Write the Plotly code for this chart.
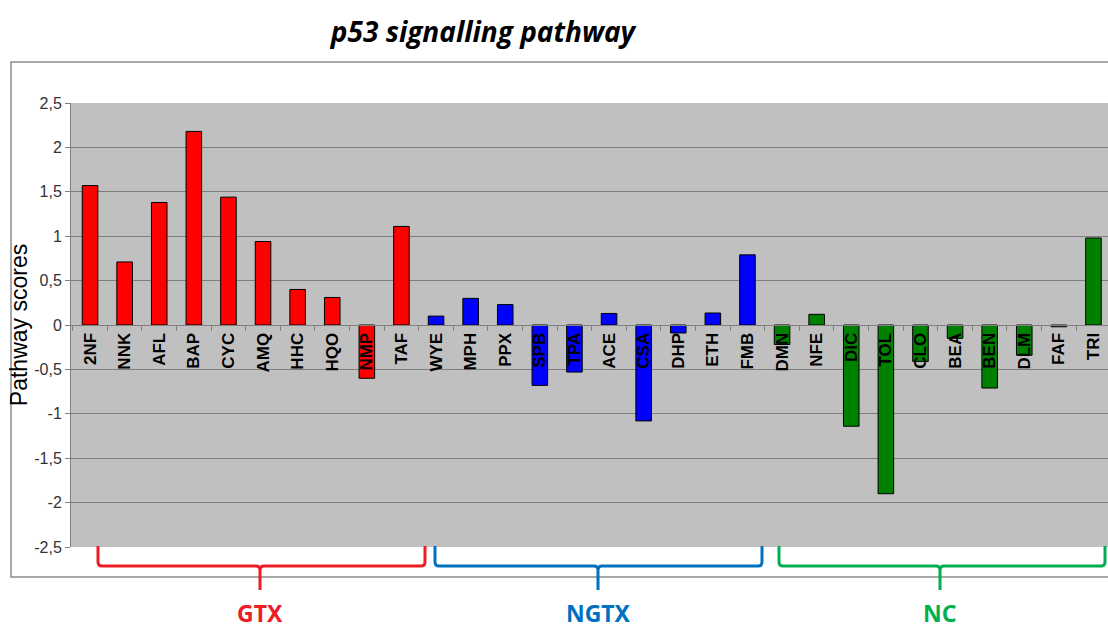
import plotly.graph_objects as go

# ---- data ----
gtx_labels = ["2NF", "NNK", "AFL", "BAP", "CYC", "AMQ", "HHC", "HQO", "NMP", "TAF"]
gtx_values = [1.57, 0.71, 1.38, 2.18, 1.44, 0.94, 0.40, 0.31, -0.60, 1.11]
ngtx_labels = ["WYE", "MPH", "PPX", "SPB", "TPA", "ACE", "CSA", "DHP", "ETH", "FMB"]
ngtx_values = [0.10, 0.30, 0.23, -0.68, -0.53, 0.13, -1.08, -0.09, 0.135, 0.79]
nc_labels = ["DMN", "NFE", "DIC", "TOL", "CLO", "BEA", "BEN", "DLM", "FAF", "TRI"]
nc_values = [-0.22, 0.12, -1.14, -1.90, -0.41, -0.15, -0.71, -0.34, -0.02, 0.98]
group_names = ["GTX", "NGTX", "NC"]
ytick_vals = [2.5, 2, 1.5, 1, 0.5, 0, -0.5, -1, -1.5, -2, -2.5]
ytick_text = ["2,5", "2", "1,5", "1", "0,5", "0", "-0,5", "-1", "-1,5", "-2", "-2,5"]

# ---- layout geometry (pixels); body margin removed by post_script ----
OFF = 0
W, H = 1108, 628
L, R, T, B = 71, 0, 103, 81
PW = W - L - R
PH = H - T - B


def px(x):
    return (x - OFF - L) / PW


def py(y):
    return (H - B - (y - OFF)) / PH


bar_colors = ["#FF0000", "#0000FF", "#008000"]
group_colors = ["#EE1C25", "#0070C0", "#00B050"]

fig = go.Figure()
for labels, values, col in zip([gtx_labels, ngtx_labels, nc_labels],
                               [gtx_values, ngtx_values, nc_values], bar_colors):
    fig.add_trace(go.Bar(x=labels, y=values, marker=dict(color=col, line=dict(color="#000000", width=1)),
                         width=0.45, showlegend=False))

all_labels = gtx_labels + ngtx_labels + nc_labels

shapes = []
# outer chart frame
shapes.append(dict(type="rect", xref="paper", yref="paper", x0=px(11), x1=px(1125), y0=py(577), y1=py(62),
                   line=dict(color="#8C8C8C", width=1.5), fillcolor="rgba(0,0,0,0)", layer="below"))

# brackets
brackets = [(98, 425, 260), (435, 762, 598), (779, 1105, 940)]
top, mid, stem = 546, 566, 590
r = 4
for (xl, xr, xc), col in zip(brackets, group_colors):
    pts = [
        f"M {px(xl)},{py(top)}",
        f"L {px(xl)},{py(mid - r)}",
        f"Q {px(xl)},{py(mid)} {px(xl + r)},{py(mid)}",
        f"L {px(xc - r)},{py(mid)}",
        f"Q {px(xc)},{py(mid)} {px(xc)},{py(mid + r)}",
        f"L {px(xc)},{py(stem)}",
        f"M {px(xc)},{py(mid + r)}",
        f"Q {px(xc)},{py(mid)} {px(xc + r)},{py(mid)}",
        f"L {px(xr - r)},{py(mid)}",
        f"Q {px(xr)},{py(mid)} {px(xr)},{py(mid - r)}",
        f"L {px(xr)},{py(top)}",
    ]
    shapes.append(dict(type="path", xref="paper", yref="paper", path=" ".join(pts),
                       line=dict(color=col, width=3)))

annotations = []
for (xl, xr, xc), col, name in zip(brackets, group_colors, group_names):
    annotations.append(dict(xref="paper", yref="paper", x=px(xc), y=py(613), text=f"<b>{name}</b>",
                            showarrow=False, xanchor="center", yanchor="middle",
                            font=dict(family="Noto Sans", size=23, color=col)))

fig.update_layout(
    width=W, height=H,
    margin=dict(l=L, r=R, t=T, b=B),
    paper_bgcolor="white",
    plot_bgcolor="#C0C0C0",
    separators=",.",
    font=dict(family="Liberation Sans", color="#000000"),
    title=dict(text="<b><i>p53 signalling pathway</i></b>", x=(483 - OFF) / W, xanchor="center",
               y=1 - (32 - OFF) / H, yanchor="middle", font=dict(family="Open Sans", size=28, color="#000000")),
    bargap=0.55,
    shapes=shapes,
    annotations=annotations,
    xaxis=dict(
        type="category", categoryorder="array", categoryarray=all_labels,
        range=[-0.55, 29.42],
        anchor="free", position=0.5,
        showline=True, linecolor="#808080", linewidth=1,
        ticks="outside", ticklen=5, tickcolor="#808080", tickson="boundaries",
        tickangle=-90, tickfont=dict(family="Liberation Sans", size=17, color="#000000", weight="bold"),
        showgrid=False, zeroline=False,
    ),
    yaxis=dict(
        range=[-2.5, 2.5], tickvals=ytick_vals, ticktext=ytick_text,
        showline=True, linecolor="#808080", linewidth=1,
        ticks="outside", ticklen=5, tickcolor="#808080",
        tickfont=dict(family="Liberation Sans", size=16, color="#333333"),
        showgrid=True, gridcolor="#7F7F7F", gridwidth=1, zeroline=False,
        title=dict(text="Pathway scores", font=dict(family="Liberation Sans", size=23, color="#000000"), standoff=0),
    ),
)

fig.write_html("out.html", config={"displayModeBar": False},
               post_script="document.body.style.margin='0';document.body.style.overflow='hidden';")
